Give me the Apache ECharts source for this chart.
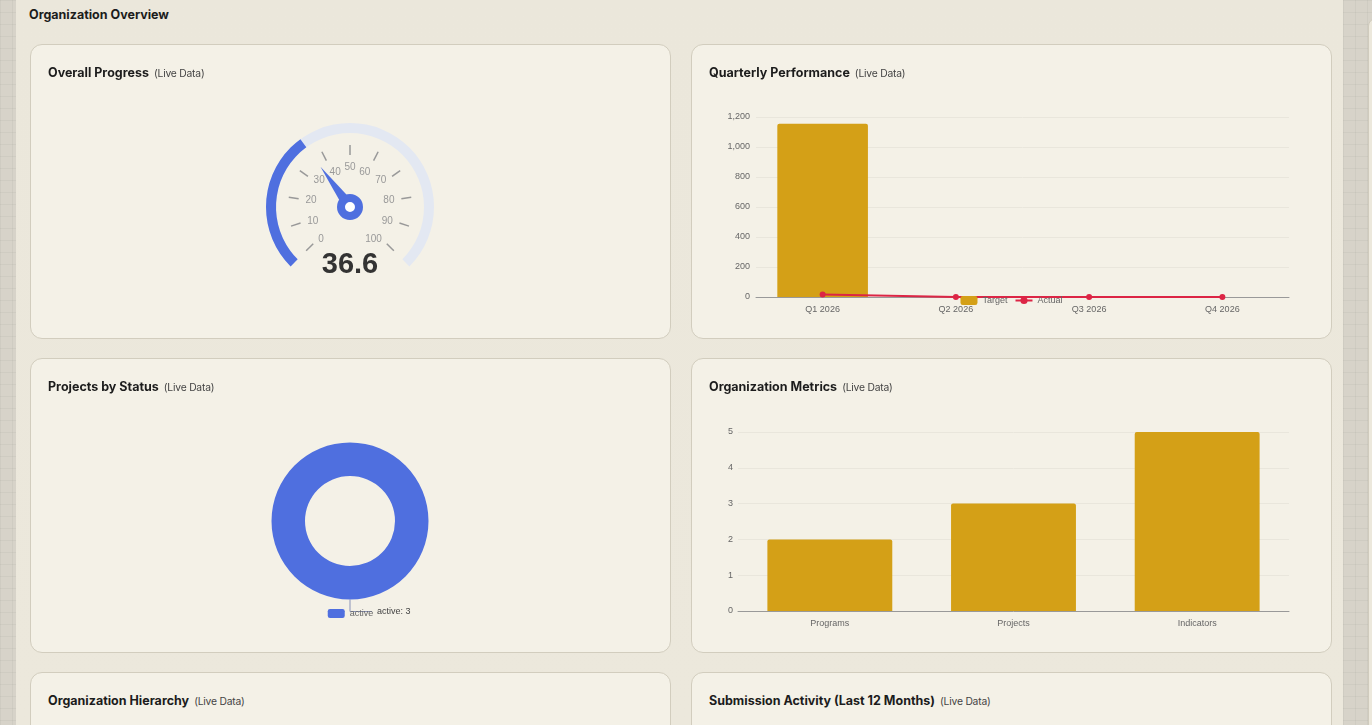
<!DOCTYPE html>
<html><head><meta charset="utf-8">
<script src="https://cdn.jsdelivr.net/npm/echarts@6/dist/echarts.min.js"></script>
<style>
html,body{margin:0;padding:0;width:1372px;height:725px;overflow:hidden;background:#d8d4ca;font-family:Inter,"DejaVu Sans",sans-serif;}
.gridbg{position:absolute;top:0;height:725px;background-color:#d7d3c9;background-image:linear-gradient(rgba(0,0,0,0.035) 1px,transparent 1px),linear-gradient(90deg,rgba(0,0,0,0.035) 1px,transparent 1px);background-size:12px 12px;}
.panel{position:absolute;left:16px;top:0;width:1327px;height:725px;background:linear-gradient(180deg,#ebe7db 0%,#ece8dc 100%);}
.side{position:absolute;left:1368px;top:18px;width:20px;height:720px;background:#ece8dc;border-radius:8px;border:1px solid #d0cbbd;}
.header{position:absolute;left:29px;top:7px;font-weight:700;font-size:12.5px;color:#1c1c1c;}
.card{position:absolute;width:641px;height:295px;box-sizing:border-box;background:#f4f1e7;border:1px solid #d2cdbe;border-radius:12px;}
.title{position:absolute;left:17px;top:20px;font-weight:700;font-size:12.5px;color:#1c1c1c;white-space:nowrap;z-index:2;}
.title span{font-weight:400;font-size:10.3px;color:#444;margin-left:5px;letter-spacing:-0.2px;}
.chart{position:absolute;left:0;top:0;width:639px;height:293px;}
</style></head>
<body>
<div class="gridbg" style="left:0;width:16px"></div>
<div class="gridbg" style="left:1343px;width:29px"></div>
<div class="panel"></div>
<div class="side"></div>
<div class="header">Organization Overview</div>

<div class="card" style="left:30px;top:44px"><div class="title">Overall Progress<span>(Live Data)</span></div><div class="chart" id="c1"></div></div>
<div class="card" style="left:691px;top:44px"><div class="title">Quarterly Performance<span>(Live Data)</span></div><div class="chart" id="c2"></div></div>
<div class="card" style="left:30px;top:358px"><div class="title">Projects by Status<span>(Live Data)</span></div><div class="chart" id="c3"></div></div>
<div class="card" style="left:691px;top:358px"><div class="title">Organization Metrics<span>(Live Data)</span></div><div class="chart" id="c4"></div></div>
<div class="card" style="left:30px;top:672px"><div class="title">Organization Hierarchy<span>(Live Data)</span></div></div>
<div class="card" style="left:691px;top:672px"><div class="title">Submission Activity (Last 12 Months)<span>(Live Data)</span></div></div>

<script>
// ---- data ----
const progressValue = 36.6;
const quarters = ['Q1 2026', 'Q2 2026', 'Q3 2026', 'Q4 2026'];
const targetValues = [1155, 0, 0, 0];
const actualValues = [17, 0, 0, 0];
const statusNames = ['active'];
const statusCounts = [3];
const metricNames = ['Programs', 'Projects', 'Indicators'];
const metricValues = [2, 3, 5];

const BLUE = '#4f6fdf';
const GOLD = '#d4a017';
const RED = '#dc2545';
const FONT = '"Liberation Sans", Arial, sans-serif';

// ---- gauge ----
const c1 = echarts.init(document.getElementById('c1'));
c1.setOption({
  animation: false,
  series: [{
    type: 'gauge', center: [319, 162], radius: 84,
    startAngle: 225, endAngle: -45, min: 0, max: 100, splitNumber: 10,
    progress: { show: true, width: 10, itemStyle: { color: BLUE } },
    axisLine: { lineStyle: { width: 10, color: [[1, '#e3e8f2']] } },
    axisTick: { show: false },
    splitLine: { distance: 12, length: 10, lineStyle: { color: '#999', width: 1.5 } },
    axisLabel: { distance: 17, color: '#999', fontSize: 10, fontFamily: FONT },
    pointer: { length: 50, width: 6, itemStyle: { color: BLUE } },
    anchor: { show: true, showAbove: true, size: 18, itemStyle: { color: '#fff', borderColor: BLUE, borderWidth: 8 } },
    title: { show: false },
    detail: { offsetCenter: [0, 58], fontSize: 29, fontWeight: 'bold', color: '#333', fontFamily: FONT, formatter: '{value}' },
    data: [{ value: progressValue }]
  }]
});

// ---- quarterly ----
const axisLabelStyle = { color: '#666', fontSize: 9, fontFamily: FONT };
const c2 = echarts.init(document.getElementById('c2'));
c2.setOption({
  animation: false,
  grid: { left: 64, right: 42, top: 72, bottom: 41 },
  legend: {
    top: 246, left: 'center', itemWidth: 17, itemHeight: 9, itemGap: 7,
    textStyle: { color: '#666', fontSize: 9, fontFamily: FONT },
    data: [{ name: 'Target', icon: 'roundRect' }, { name: 'Actual' }]
  },
  xAxis: {
    type: 'category', data: quarters,
    axisLine: { lineStyle: { color: '#999' } }, axisTick: { show: false },
    axisLabel: Object.assign({ margin: 8 }, axisLabelStyle)
  },
  yAxis: {
    type: 'value', min: 0, max: 1200, interval: 200,
    axisLabel: Object.assign({ margin: 6 }, axisLabelStyle),
    splitLine: { lineStyle: { color: '#e9e6dc' } }
  },
  series: [
    { name: 'Target', type: 'bar', data: targetValues, barWidth: '68%', itemStyle: { color: GOLD, borderRadius: [2, 2, 0, 0] } },
    { name: 'Actual', type: 'line', data: actualValues, symbol: 'circle', symbolSize: 6, lineStyle: { color: RED, width: 2 }, itemStyle: { color: RED } }
  ]
});

// ---- donut ----
const c3 = echarts.init(document.getElementById('c3'));
c3.setOption({
  animation: false,
  legend: {
    top: 245, left: 'center', itemWidth: 17, itemHeight: 9,
    textStyle: { color: '#666', fontSize: 9, fontFamily: FONT },
    data: statusNames.map(n => ({ name: n, icon: 'roundRect' }))
  },
  series: [{
    type: 'pie', center: [319, 162], radius: [45, 78.5],
    data: statusNames.map((n, i) => ({ name: n, value: statusCounts[i] })),
    itemStyle: { color: BLUE },
    label: { formatter: '{b}: {c}', color: '#444', fontSize: 9, fontFamily: FONT },
    labelLine: { length: 12, length2: 22, lineStyle: { color: '#8a93b8' } }
  }]
});

// ---- metrics ----
const c4 = echarts.init(document.getElementById('c4'));
c4.setOption({
  animation: false,
  grid: { left: 46, right: 42, top: 73, bottom: 41 },
  xAxis: {
    type: 'category', data: metricNames,
    axisLine: { lineStyle: { color: '#999' } }, axisTick: { show: false },
    axisLabel: Object.assign({ margin: 8 }, axisLabelStyle)
  },
  yAxis: {
    type: 'value', min: 0, max: 5, interval: 1,
    axisLabel: Object.assign({ margin: 5 }, axisLabelStyle),
    splitLine: { lineStyle: { color: '#e9e6dc' } }
  },
  series: [{ type: 'bar', data: metricValues, barWidth: '68%', itemStyle: { color: GOLD, borderRadius: [2, 2, 0, 0] } }]
});
</script>
</body></html>
